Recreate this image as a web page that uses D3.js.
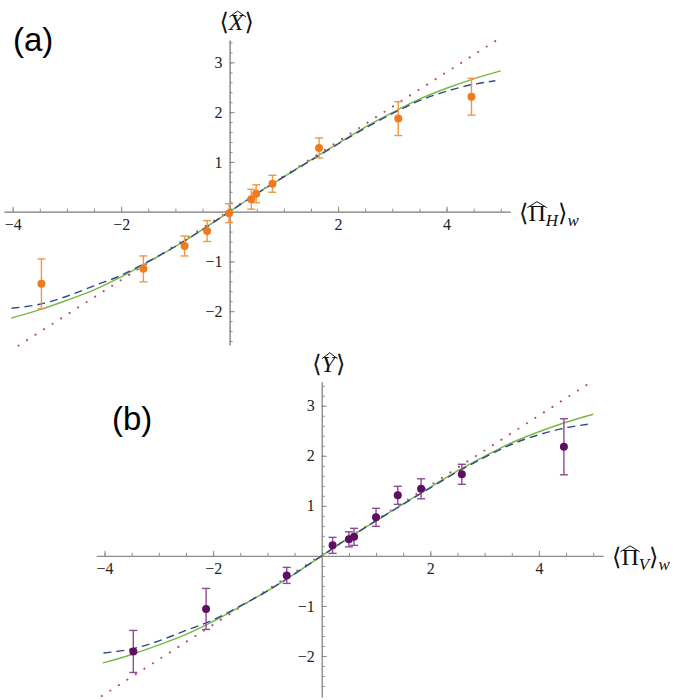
<!DOCTYPE html>
<html>
<head>
<meta charset="utf-8">
<script src="https://cdn.jsdelivr.net/npm/d3@7"></script>
<style>
  body { margin: 0; background: #fff; }
  svg { display: block; }
</style>
</head>
<body>
<svg id="canvas" width="685" height="700"></svg>
<script>
// theory curves (same in both panels)
let greenX = [-4.03, -3.5, -3.0, -2.5, -2.0, -1.5, -1.0, -0.5, 0, 0.5, 1.0, 1.5, 2.0, 2.5, 3.0, 3.5, 4.0, 4.5, 5.0]
let greenY = [-2.14, -1.97, -1.78, -1.57, -1.31, -1.01, -0.70, -0.36, 0, 0.36, 0.70, 1.04, 1.37, 1.70, 1.99, 2.26, 2.48, 2.67, 2.83]
let blueX = [-4.02, -3.5, -3.0, -2.5, -2.0, -1.5, -1.0, -0.5, 0, 0.5, 1.0, 1.5, 2.0, 2.5, 3.0, 3.5, 4.0, 4.5, 4.9]
let blueY = [-1.94, -1.86, -1.70, -1.49, -1.28, -1.0, -0.70, -0.36, 0, 0.36, 0.70, 1.03, 1.36, 1.68, 1.97, 2.23, 2.42, 2.56, 2.63]
// linear approximation (dotted)
let dotX = [-4.05, 5.0]
let dotY = [-2.80, 3.5]

// panel (a) measurements
let aX = [-3.47, -1.59, -0.83, -0.415, -0.01, 0.40, 0.49, 0.79, 1.65, 3.11, 4.46]
let aY = [-1.45, -1.15, -0.69, -0.39, -0.03, 0.25, 0.36, 0.56, 1.28, 1.87, 2.31]
let aErr = [0.50, 0.26, 0.20, 0.21, 0.19, 0.20, 0.18, 0.17, 0.20, 0.34, 0.37]

// panel (b) measurements
let bX = [-3.47, -2.13, -0.645, 0.20, 0.50, 0.595, 1.0, 1.40, 1.83, 2.58, 4.46]
let bY = [-1.91, -1.06, -0.39, 0.21, 0.33, 0.38, 0.77, 1.21, 1.34, 1.63, 2.18]
let bErr = [0.42, 0.41, 0.16, 0.16, 0.15, 0.17, 0.18, 0.18, 0.20, 0.20, 0.56]

// ticks
let xMajor = [-4, -2, 2, 4]
let xMinor = [-4, -3.5, -3, -2.5, -2, -1.5, -1, -0.5, 0.5, 1, 1.5, 2, 2.5, 3, 3.5, 4, 4.5, 5]
let yMajor = [-2, -1, 1, 2, 3]
let yMinor = d3.range(-26, 35, 2).map(d => d / 10).filter(d => d !== 0)

let svg = d3.select('#canvas')
let axisColor = "#8c8c8c"
let serif = "Liberation Serif, DejaVu Serif, serif"

let panels = [
    { id: "a", xRange: [4, 510], yRange: [345, 40], xDomain: [-4.16, 5.17], yDomain: [-2.68, 3.45],
      px: aX, py: aY, err: aErr, dotColor: "#f07a1e", barColor: "#ee9848",
      tag: "(a)", tagPos: [13, 51], yName: "X", xSub: "H" },
    { id: "b", xRange: [96.4, 603], yRange: [697, 381.7], xDomain: [-4.15, 5.18], yDomain: [-2.82, 3.48],
      px: bX, py: bY, err: bErr, dotColor: "#5e0f62", barColor: "#8e4a92",
      tag: "(b)", tagPos: [112, 430], yName: "Y", xSub: "V" }
]

panels.forEach(p => drawPanel(p))

function fmt(d) { return d < 0 ? "\u2212" + Math.abs(d) : d }

function drawPanel(p) {
    let x = d3.scaleLinear().domain(p.xDomain).range(p.xRange)
    let y = d3.scaleLinear().domain(p.yDomain).range(p.yRange)
    let g = svg.append("g")

    g.append("clipPath").attr("id", "clip-" + p.id)
        .append("rect")
        .attr("x", p.xRange[0]).attr("y", p.yRange[1] - 3)
        .attr("width", p.xRange[1] - p.xRange[0])
        .attr("height", p.yRange[0] - p.yRange[1] + 6)

    //minor ticks
    g.append("g")
        .attr("transform", "translate(0," + y(0) + ")")
        .call(d3.axisBottom(x).tickValues(xMinor).tickSizeInner(-3).tickSizeOuter(0).tickFormat(""))
    g.append("g")
        .attr("transform", "translate(" + x(0) + ",0)")
        .call(d3.axisLeft(y).tickValues(yMinor).tickSizeInner(-3).tickSizeOuter(0).tickFormat(""))
    //major ticks with labels
    g.append("g")
        .attr("transform", "translate(0," + y(0) + ")")
        .call(d3.axisBottom(x).tickValues(xMajor).tickSizeInner(-5).tickSizeOuter(0).tickPadding(7).tickFormat(fmt))
        .attr("font-family", serif)
        .attr("font-size", 16)
    g.append("g")
        .attr("transform", "translate(" + x(0) + ",0)")
        .call(d3.axisLeft(y).tickValues(yMajor).tickSizeInner(-5).tickSizeOuter(0).tickPadding(7).tickFormat(fmt))
        .attr("font-family", serif)
        .attr("font-size", 16)
    g.selectAll(".domain, .tick line").attr("stroke", axisColor)
    g.selectAll(".tick text").attr("fill", "#222")

    let curves = g.append("g").attr("clip-path", "url(#clip-" + p.id + ")")
    let line = d3.line().x(d => x(d[0])).y(d => y(d[1])).curve(d3.curveMonotoneX)

    curves.append("path")
        .attr("d", line(d3.zip(dotX, dotY)))
        .attr("fill", "none")
        .attr("stroke", "#b4476c")
        .attr("stroke-width", 2)
        .attr("stroke-linecap", "round")
        .attr("stroke-dasharray", "0.1 10")
    curves.append("path")
        .attr("d", line(d3.zip(greenX, greenY)))
        .attr("fill", "none")
        .attr("stroke", "#76b845")
        .attr("stroke-width", 1.4)
    curves.append("path")
        .attr("d", line(d3.zip(blueX, blueY)))
        .attr("fill", "none")
        .attr("stroke", "#34488a")
        .attr("stroke-width", 1.4)
        .attr("stroke-dasharray", "8 5")

    //error bars
    let pts = d3.range(p.px.length).map(i => ({ x: p.px[i], y: p.py[i], e: p.err[i] }))
    let bars = g.append("g").attr("stroke", p.barColor).attr("stroke-width", 1.4)
    bars.selectAll("line.v").data(pts).join("line").attr("class", "v")
        .attr("x1", d => x(d.x)).attr("x2", d => x(d.x))
        .attr("y1", d => y(d.y + d.e)).attr("y2", d => y(d.y - d.e))
    bars.selectAll("line.top").data(pts).join("line").attr("class", "top")
        .attr("x1", d => x(d.x) - 4).attr("x2", d => x(d.x) + 4)
        .attr("y1", d => y(d.y + d.e)).attr("y2", d => y(d.y + d.e))
    bars.selectAll("line.bot").data(pts).join("line").attr("class", "bot")
        .attr("x1", d => x(d.x) - 4).attr("x2", d => x(d.x) + 4)
        .attr("y1", d => y(d.y - d.e)).attr("y2", d => y(d.y - d.e))
    g.append("g").selectAll("circle").data(pts).join("circle")
        .attr("cx", d => x(d.x)).attr("cy", d => y(d.y)).attr("r", 4)
        .attr("fill", p.dotColor)

    //panel tag
    g.append("text")
        .attr("x", p.tagPos[0]).attr("y", p.tagPos[1])
        .attr("font-family", "Liberation Sans, Arial, sans-serif")
        .attr("font-size", 33)
        .text(p.tag)

    //y axis name <X^>
    let cx = x(0) + 7, by = p.yRange[1] - 10
    let yl = g.append("text").attr("x", cx).attr("y", by).attr("text-anchor", "middle")
        .attr("font-family", serif).attr("font-size", 24).attr("fill", "#111")
    yl.append("tspan").text("\u27E8")
    yl.append("tspan").attr("font-style", "italic").text(p.yName)
    yl.append("tspan").attr("dx", 1).text("\u27E9")
    let ext = yl.node().getExtentOfChar(1)
    hat(g, ext.x + ext.width / 2 + 1.5, ext.y + 4, ext.width + 2)

    //x axis name <Pi^_H>_w
    let xl = g.append("text").attr("x", p.xRange[1] + 9).attr("y", y(0) + 9)
        .attr("font-family", serif).attr("font-size", 24).attr("fill", "#111")
    xl.append("tspan").text("\u27E8")
    xl.append("tspan").text("\u03A0")
    xl.append("tspan").attr("dy", 5).attr("font-style", "italic").attr("font-size", 17).text(p.xSub)
    xl.append("tspan").attr("dy", -5).text("\u27E9")
    xl.append("tspan").attr("dy", 5).attr("font-style", "italic").attr("font-size", 17).text("w")
    let ext2 = xl.node().getExtentOfChar(1)
    hat(g, ext2.x + ext2.width / 2, ext2.y + 4, ext2.width + 2)
}

//wide hat drawn above a glyph
function hat(g, cx, top, w) {
    g.append("path")
        .attr("d", "M" + (cx - w / 2) + "," + (top + 4) + "L" + cx + "," + (top - 2) + "L" + (cx + w / 2) + "," + (top + 4))
        .attr("fill", "none")
        .attr("stroke", "#111")
        .attr("stroke-width", 1)
}
</script>
</body>
</html>
